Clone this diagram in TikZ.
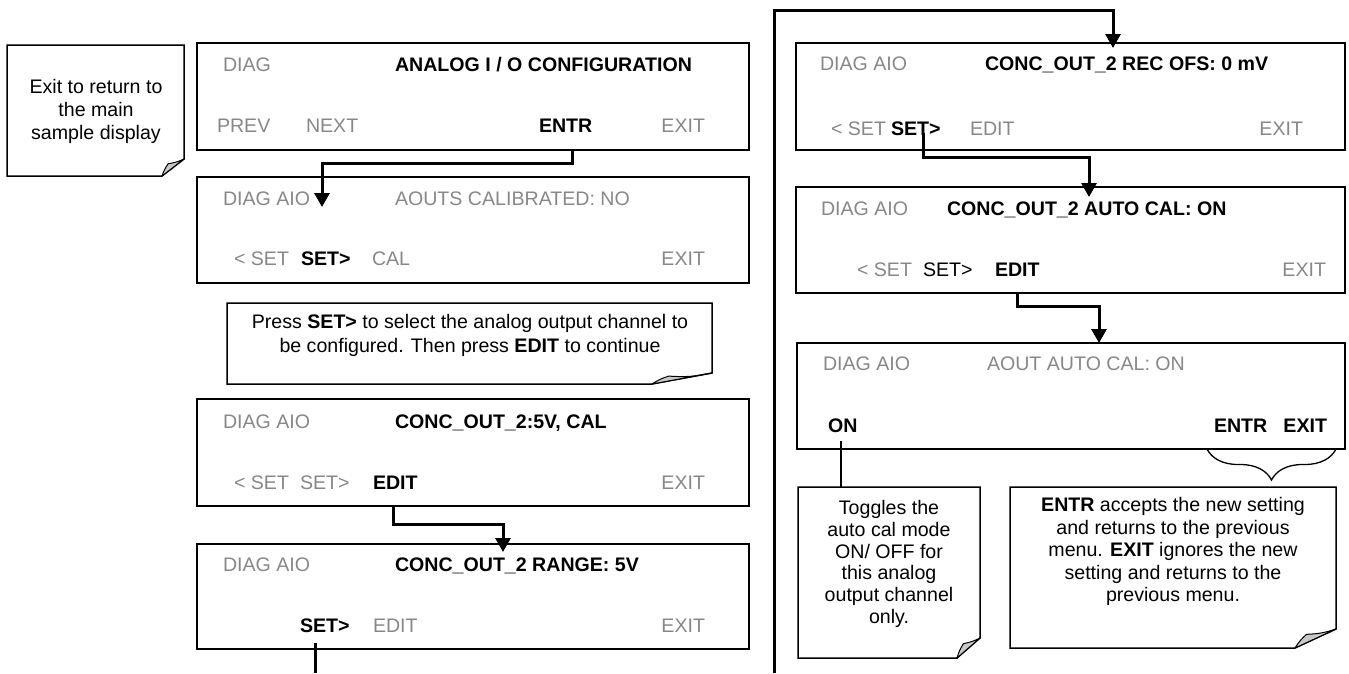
\documentclass[tikz,border=0pt]{standalone}
\usepackage{fontspec}
\setmainfont{Liberation Sans}
\usetikzlibrary{arrows.meta,decorations.pathreplacing,calc}
\definecolor{lcdgray}{RGB}{135,135,135}
\definecolor{foldgray}{RGB}{200,200,200}
\newcommand\fs{\fontsize{19.6}{23}\selectfont}
\newcommand\foldnote[3]{%
  \draw[notebox] (#1.north west) -- (#1.north east) -- ($(#1.south east)+(0,-#3)$) -- ($(#1.south east)+(-#2,0)$) -- (#1.south west) -- cycle;
  \draw[flap] ($(#1.south east)+(-#2,0)$) to[bend left=8] ($(#1.south east)+(-0.72*#2,-0.72*#3)$) to[bend right=8] ($(#1.south east)+(0,-#3)$) -- cycle;}
\begin{document}
\begin{tikzpicture}[x=1pt,y=-1pt,
  every node/.style={inner sep=0pt, outer sep=0pt, font=\fs},
  lcd/.style={draw, line width=1.5pt, minimum width=552pt},
  g/.style={text=lcdgray, anchor=base west},
  ge/.style={text=lcdgray, anchor=base east},
  b/.style={font=\fs\bfseries, anchor=base west},
  be/.style={font=\fs\bfseries, anchor=base east},
  k/.style={anchor=base west},
  notebox/.style={line width=1.5pt, fill=white},
  flap/.style={line width=1pt, fill=foldgray, line join=round},
  notearea/.style={draw=none},
  notetext/.style={align=center},
  arr/.style={line width=3pt, -{Triangle[width=15pt,length=14pt]}},
  wire/.style={line width=3pt},
  thinwire/.style={line width=1.2pt}]
\useasboundingbox (0,0) rectangle (1349,673);

% ---------- left column displays
\node[lcd, minimum height=107pt] (A) at (473,96.5) {};
\node[g]  (tA1) at (223,71) {DIAG};
\node[b]  (tA2) at (395,71) {ANALOG I / O CONFIGURATION};
\node[g]  (tA3) at (217,132) {PREV};
\node[g]  (tA4) at (306,132) {NEXT};
\node[b]  (tA5) at (539,132) {ENTR};
\node[ge] (tA6) at (705,132) {EXIT};

\node[lcd, minimum height=106pt] (B) at (473,230) {};
\node[g]  (tB1) at (223,205) {DIAG AIO};
\node[g]  (tB2) at (395,205) {AOUTS CALIBRATED: NO};
\node[g]  (tB3) at (234,265) {< SET};
\node[b]  (tB4) at (301,265) {SET>};
\node[g]  (tB5) at (372,265) {CAL};
\node[ge] (tB6) at (705,265) {EXIT};

\node[lcd, minimum height=107pt] (C) at (473,452.5) {};
\node[g]  (tC1) at (223,428) {DIAG AIO};
\node[b]  (tC2) at (395,428) {CONC\_OUT\_2:5V, CAL};
\node[g]  (tC3) at (234,489) {< SET};
\node[g]  (tC4) at (300,489) {SET>};
\node[b]  (tC5) at (373,489) {EDIT};
\node[ge] (tC6) at (705,489) {EXIT};

\node[lcd, minimum height=105pt] (D) at (473,596.5) {};
\node[g]  (tD1) at (223,571) {DIAG AIO};
\node[b]  (tD2) at (395,571) {CONC\_OUT\_2 RANGE: 5V};
\node[b]  (tD4) at (300,632) {SET>};
\node[g]  (tD5) at (373,632) {EDIT};
\node[ge] (tD6) at (705,632) {EXIT};

% ---------- right column displays
\node[lcd, minimum width=549pt, minimum height=107pt] (E) at (1070.5,96.5) {};
\node[g]  (tE1) at (820,70) {DIAG AIO};
\node[b]  (tE2) at (985,70) {CONC\_OUT\_2 REC OFS: 0 mV};
\node[g]  (tE3) at (831,135) {< SET};
\node[b]  (tE4) at (891,135) {SET>};
\node[g]  (tE5) at (970,135) {EDIT};
\node[ge] (tE6) at (1303,135) {EXIT};

\node[lcd, minimum width=549pt, minimum height=106pt] (F) at (1070.5,240) {};
\node[g]  (tF1) at (821,215) {DIAG AIO};
\node[b]  (tF2) at (947,215) {CONC\_OUT\_2 AUTO CAL: ON};
\node[g]  (tF3) at (857,276) {< SET};
\node[k]  (tF4) at (923,276) {SET>};
\node[b]  (tF5) at (995,276) {EDIT};
\node[ge] (tF6) at (1326,276) {EXIT};

\node[lcd, minimum width=548pt, minimum height=106pt] (G) at (1071,396) {};
\node[g]  (tG1) at (823,370) {DIAG AIO};
\node[g]  (tG2) at (987,370) {AOUT AUTO CAL: ON};
\node[b]  (tG3) at (828,432) {ON};
\node[b]  (tG4) at (1214,432) {ENTR};
\node[be] (tG5) at (1327,432) {EXIT};

% ---------- notes
\node[notearea, minimum width=177pt, minimum height=131pt] (nExit) at (95.5,110.5) {};
\foldnote{nExit}{22}{17}
\node[notetext, font=\fontsize{19.6}{23}\selectfont] (txExit) at (96,111) {Exit to return to\\the main\\sample display};

\node[notearea, minimum width=485pt, minimum height=81pt] (nPress) at (469.5,343.5) {};
\foldnote{nPress}{60}{11}
\node[notetext, font=\fontsize{19.6}{24}\selectfont] (txPress) at (470,335) {Press \textbf{SET>} to select the analog output channel to\\be configured. Then press \textbf{EDIT} to continue};

\node[notearea, minimum width=182pt, minimum height=171pt] (nTog) at (889,572.5) {};
\foldnote{nTog}{23}{20}
\node[notetext, font=\fontsize{19.6}{21.7}\selectfont] (txTog) at (889,564) {Toggles the\\auto cal mode\\ON/ OFF for\\this analog\\output channel\\only.};

\node[notearea, minimum width=326pt, minimum height=161pt] (nEntr) at (1173,567.5) {};
\foldnote{nEntr}{41}{19}
\node[notetext, font=\fontsize{19.6}{22.5}\selectfont] (txEntr) at (1173,551.5) {\textbf{ENTR} accepts the new setting\\and returns to the previous\\menu. \textbf{EXIT} ignores the new\\setting and returns to the\\previous menu.};

% ---------- connectors
\coordinate (a1) at (572,163);
\coordinate (a2) at (322,207);
\draw[arr] (A.south -| a1) -- (a1) -| (a2);

\coordinate (c1) at (393,524);
\coordinate (c2) at (503,552);
\draw[arr] (C.south -| c1) -- (c1) -| (c2);

\coordinate (dT) at (315.5,643);
\coordinate (dB) at (315.5,673);
\draw[wire] (dT) -- (dB);

\coordinate (botR) at (774,673);
\coordinate (rTop) at (1113,10);
\coordinate (r1) at (1113,48);
\draw[arr] (botR) |- (rTop) -- (r1);

\coordinate (e0) at (923,133);
\coordinate (e1) at (923,157);
\coordinate (e2) at (1089,197);
\draw[arr] (e0) -- (e1) -| (e2);

\coordinate (f1) at (1017,306);
\coordinate (f2) at (1099,343);
\draw[arr] (F.south -| f1) -- (f1) -| (f2);

\coordinate (on1) at (841,441);
\draw[thinwire] (on1) -- (on1 |- nTog.north);

\draw[line width=1.3pt, decorate, decoration={brace, amplitude=31pt, mirror}] (1207,449) -- (1336,449);
\end{tikzpicture}
\end{document}
